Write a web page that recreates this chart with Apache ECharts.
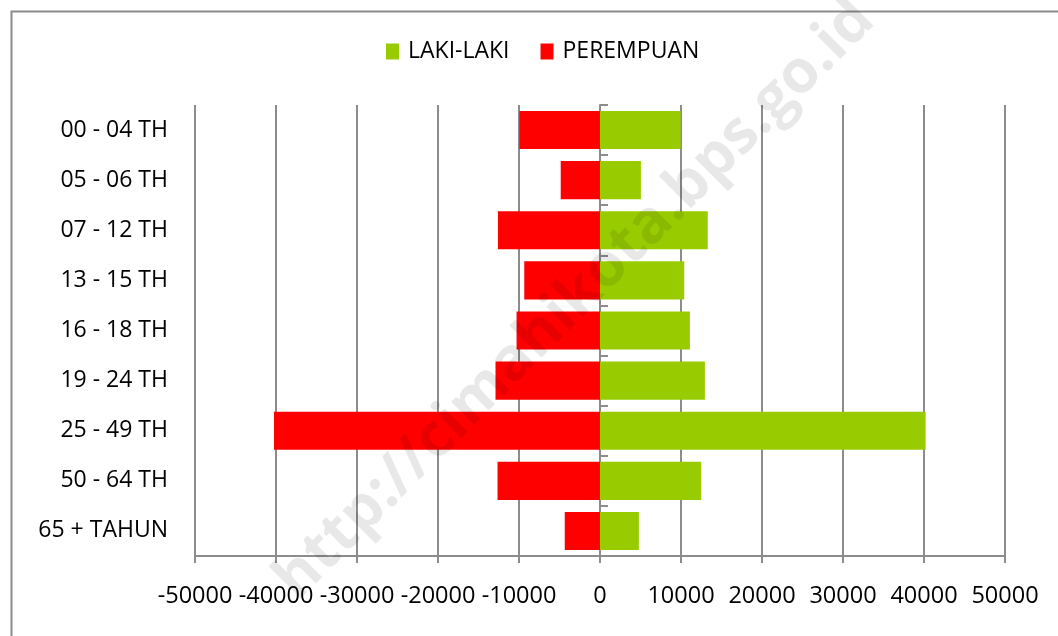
<!DOCTYPE html>
<html>
<head>
<meta charset="utf-8">
<script src="https://cdn.jsdelivr.net/npm/echarts@6/dist/echarts.min.js"></script>
<style>
html,body{margin:0;padding:0;background:#fff;}
#chart{width:1058px;height:636px;}
</style>
</head>
<body>
<div id="chart"></div>
<script>
var categories = ['00 - 04 TH','05 - 06 TH','07 - 12 TH','13 - 15 TH','16 - 18 TH','19 - 24 TH','25 - 49 TH','50 - 64 TH','65 + TAHUN'];
var lakiLaki = [9950, 5050, 13300, 10400, 11100, 12950, 40200, 12500, 4800];
var perempuan = [-9950, -4850, -12600, -9350, -10300, -12900, -40250, -12650, -4350];
var seriesNames = ['LAKI-LAKI', 'PEREMPUAN'];
var xTicks = {min: -50000, max: 50000, interval: 10000};
var watermarkText = 'http://cimahikota.bps.go.id';

var FONT = 'Open Sans';
var chart = echarts.init(document.getElementById('chart'), null, {renderer: 'canvas'});
chart.setOption({
  animation: false,
  backgroundColor: '#fff',
  textStyle: {fontFamily: FONT},
  legend: {
    data: seriesNames,
    left: 381,
    top: 35,
    itemWidth: 13,
    itemHeight: 16,
    itemGap: 31,
    icon: 'rect',
    textStyle: {fontFamily: FONT, fontSize: 23, color: '#000', padding: [0, 0, 0, 4]}
  },
  grid: {left: 195, right: 53, top: 105, bottom: 80},
  xAxis: {
    type: 'value',
    min: xTicks.min, max: xTicks.max, interval: xTicks.interval,
    axisLine: {show: true, onZero: false, lineStyle: {color: '#8c8c8c', width: 2}},
    axisTick: {show: true, length: 7, lineStyle: {color: '#8c8c8c', width: 2}},
    splitLine: {show: true, lineStyle: {color: '#8c8c8c', width: 2}},
    axisLabel: {color: '#000', fontSize: 23.5, margin: 28, fontFamily: FONT,
      formatter: function (v) { return String(v); }}
  },
  yAxis: [{
    type: 'category',
    data: categories,
    inverse: true,
    axisLine: {show: false, onZero: false},
    axisTick: {show: false},
    axisLabel: {color: '#000', fontSize: 23, margin: 27, fontFamily: FONT}
  }, {
    type: 'category',
    data: categories,
    inverse: true,
    position: 'left',
    axisLine: {show: true, onZero: true, lineStyle: {color: '#8c8c8c', width: 2}},
    axisTick: {show: true, inside: true, length: 8, lineStyle: {color: '#8c8c8c', width: 2}},
    axisLabel: {show: false}
  }],
  series: [{
    name: seriesNames[0],
    type: 'bar',
    data: lakiLaki,
    yAxisIndex: 0,
    barWidth: '76%',
    barGap: '-100%',
    itemStyle: {color: '#99cc00'},
    z: 3
  }, {
    name: seriesNames[1],
    type: 'bar',
    data: perempuan,
    yAxisIndex: 0,
    barWidth: '76%',
    barGap: '-100%',
    itemStyle: {color: '#ff0000'},
    z: 3
  }],
  graphic: [{
    type: 'rect',
    left: 9, top: 9,
    shape: {width: 1100, height: 700},
    style: {fill: 'none', stroke: '#8c8c8c', lineWidth: 2},
    silent: true, z: 0
  }, {
    type: 'text',
    x: 575, y: 300,
    rotation: Math.PI / 4,
    style: {
      text: watermarkText,
      fontFamily: FONT,
      fontWeight: 'bold',
      fontSize: 60,
      fill: 'rgba(0,0,0,0.09)',
      align: 'center',
      verticalAlign: 'middle'
    },
    silent: true, z: 100
  }]
});
</script>
</body>
</html>
